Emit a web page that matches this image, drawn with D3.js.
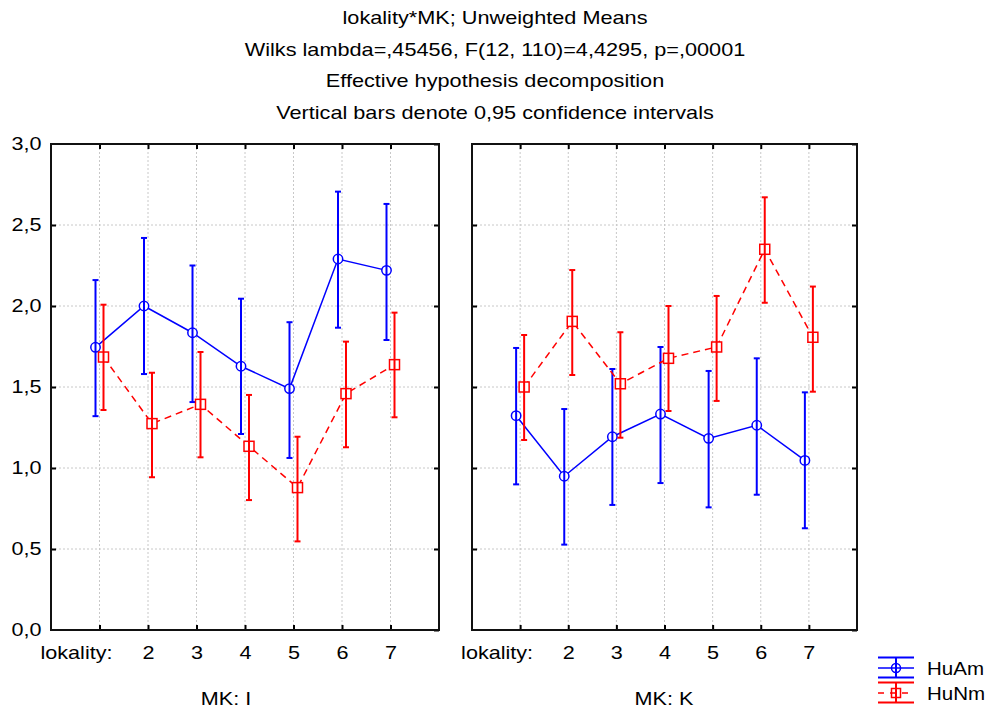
<!DOCTYPE html>
<html>
<head>
<meta charset="utf-8">
<style>
  body { margin: 0; background: #fff; }
  text { font-family: "Liberation Sans", Arial, sans-serif; fill: #000; }
</style>
</head>
<body>
<svg id="chart" width="986" height="708"></svg>
<script src="https://cdn.jsdelivr.net/npm/d3@7"></script>
<script>
// data
var titleLines = [
    "lokality*MK; Unweighted Means",
    "Wilks lambda=,45456, F(12, 110)=4,4295, p=,00001",
    "Effective hypothesis decomposition",
    "Vertical bars denote 0,95 confidence intervals"
];
var lokality = [1, 2, 3, 4, 5, 6, 7];
var panels = ["MK: I", "MK: K"];
var seriesNames = ["HuAm", "HuNm"];
var yTicks = [0, 0.5, 1, 1.5, 2, 2.5, 3];

// MK: I
var huAmMeanI = [1.745, 2.00, 1.835, 1.628, 1.49, 2.29, 2.22];
var huAmLowI  = [1.32, 1.58, 1.407, 1.21, 1.062, 1.866, 1.79];
var huAmHighI = [2.16, 2.42, 2.25, 2.045, 1.90, 2.706, 2.63];
var huNmMeanI = [1.685, 1.274, 1.393, 1.134, 0.879, 1.459, 1.638];
var huNmLowI  = [1.358, 0.943, 1.066, 0.802, 0.547, 1.128, 1.313];
var huNmHighI = [2.008, 1.588, 1.716, 1.451, 1.193, 1.78, 1.959];
// MK: K
var huAmMeanK = [1.323, 0.949, 1.193, 1.333, 1.183, 1.264, 1.047];
var huAmLowK  = [0.899, 0.527, 0.772, 0.907, 0.757, 0.835, 0.628];
var huAmHighK = [1.741, 1.364, 1.611, 1.747, 1.599, 1.677, 1.467];
var huNmMeanK = [1.50, 1.905, 1.52, 1.677, 1.747, 2.35, 1.807];
var huNmLowK  = [1.173, 1.574, 1.187, 1.352, 1.414, 2.02, 1.471];
var huNmHighK = [1.821, 2.222, 1.838, 2.0, 2.062, 2.671, 2.12];

var panelData = [
    [[huAmMeanI, huAmLowI, huAmHighI], [huNmMeanI, huNmLowI, huNmHighI]],
    [[huAmMeanK, huAmLowK, huAmHighK], [huNmMeanK, huNmLowK, huNmHighK]]
];

var colors = ["#0000ff", "#ff0000"];
var offsets = [-4, 4];
var sx = 1.2; // text in the original is drawn wider

var svg = d3.select("#chart");
var comma = d3.formatLocale({decimal: ",", thousands: " ", grouping: [3], currency: ["", ""]}).format(".1f");

function label(t, x, yb, size, anchor, scale) {
    return svg.append("text")
        .attr("transform", "translate(" + x + "," + yb + ") scale(" + scale + ",1)")
        .attr("text-anchor", anchor)
        .attr("font-size", size)
        .text(t);
}

// titles
var titleY = [24, 56, 87, 119];
titleLines.forEach(function(t, i) { label(t, 495, titleY[i], 17.5, "middle", 1.24); });

var y = d3.scaleLinear().domain([0, 3]).range([630, 144]);
var panelBox = [[51, 439], [472, 857]];
var panelLabelX = [226, 664];

panels.forEach(function(pname, p) {
    var x0 = panelBox[p][0], x1 = panelBox[p][1];
    var x = d3.scaleLinear().domain([0, 8]).range([x0, x1]);
    var g = svg.append("g");

    // grid
    g.selectAll(".gx").data(lokality).join("line")
        .attr("x1", function(d) { return x(d); }).attr("x2", function(d) { return x(d); })
        .attr("y1", y(0)).attr("y2", y(3))
        .attr("stroke", "#c8c8c8").attr("stroke-dasharray", "2,2");
    g.selectAll(".gy").data(yTicks.slice(1, -1)).join("line")
        .attr("y1", function(d) { return y(d); }).attr("y2", function(d) { return y(d); })
        .attr("x1", x0).attr("x2", x1)
        .attr("stroke", "#c8c8c8").attr("stroke-dasharray", "2,2");

    // axes, ticks inward
    var axL = g.append("g").attr("transform", "translate(" + x0 + ",0)")
        .call(d3.axisLeft(y).tickValues(yTicks).tickSize(-5).tickSizeOuter(0).tickPadding(8)
            .tickFormat(p === 0 ? comma : ""));
    var axR = g.append("g").attr("transform", "translate(" + x1 + ",0)")
        .call(d3.axisRight(y).tickValues(yTicks).tickSize(-5).tickSizeOuter(0).tickFormat(""));
    var axT = g.append("g").attr("transform", "translate(0," + y(3) + ")")
        .call(d3.axisTop(x).tickValues(lokality).tickSize(-5).tickSizeOuter(0).tickFormat(""));
    var axB = g.append("g").attr("transform", "translate(0," + y(0) + ")")
        .call(d3.axisBottom(x).tickValues(lokality).tickSize(-5).tickSizeOuter(0).tickPadding(16)
            .tickFormat(function(d) { return d === 1 ? "" : d; }));
    [axL, axR, axT, axB].forEach(function(a) {
        a.attr("font-family", null).attr("font-size", 18);
        a.select(".domain").remove();
        a.selectAll(".tick line").attr("stroke", "#000").attr("stroke-width", 2);
        a.selectAll(".tick text").attr("transform", "scale(" + sx + ",1)");
    });
    axL.selectAll(".tick").filter(function(d) { return d === 0 || d === 3; }).select("line").remove();

    // frame
    g.append("rect").attr("x", x0).attr("y", y(3)).attr("width", x1 - x0).attr("height", y(0) - y(3))
        .attr("fill", "none").attr("stroke", "#111").attr("stroke-width", 2);

    label("lokality:", x(1) + 13, 659, 18, "end", sx);
    label(pname, panelLabelX[p], 705, 18, "middle", sx);

    // series
    panelData[p].forEach(function(s, si) {
        var pts = lokality.map(function(k, j) {
            return {x: x(k) + offsets[si], m: s[0][j], lo: s[1][j], hi: s[2][j]};
        });
        var sg = g.append("g");
        sg.append("path").datum(pts)
            .attr("d", d3.line().x(function(d) { return d.x; }).y(function(d) { return y(d.m); }))
            .attr("fill", "none").attr("stroke", colors[si]).attr("stroke-width", 1.5)
            .attr("stroke-dasharray", si === 1 ? "7,5" : null);
        if (si === 0) {
            sg.selectAll("circle").data(pts).join("circle")
                .attr("cx", function(d) { return d.x; }).attr("cy", function(d) { return y(d.m); })
                .attr("r", 4.7).attr("fill", "#fff").attr("stroke", colors[si]).attr("stroke-width", 1.5);
        } else {
            sg.selectAll("rect").data(pts).join("rect")
                .attr("x", function(d) { return d.x - 5; }).attr("y", function(d) { return y(d.m) - 5; })
                .attr("width", 10).attr("height", 10)
                .attr("fill", "#fff").attr("stroke", colors[si]).attr("stroke-width", 1.5);
        }
        sg.selectAll(".bar").data(pts).join("line")
            .attr("x1", function(d) { return d.x; }).attr("x2", function(d) { return d.x; })
            .attr("y1", function(d) { return y(d.lo); }).attr("y2", function(d) { return y(d.hi); })
            .attr("stroke", colors[si]).attr("stroke-width", 2);
        ["lo", "hi"].forEach(function(k) {
            sg.selectAll(".cap-" + k).data(pts).join("line")
                .attr("x1", function(d) { return d.x - 3; }).attr("x2", function(d) { return d.x + 3; })
                .attr("y1", function(d) { return y(d[k]); }).attr("y2", function(d) { return y(d[k]); })
                .attr("stroke", colors[si]).attr("stroke-width", 2);
        });
    });
});

// legend
var legY = [668, 693];
seriesNames.forEach(function(name, i) {
    var cy = legY[i], lg = svg.append("g");
    lg.append("line").attr("x1", 878).attr("x2", 914).attr("y1", cy - 10.5).attr("y2", cy - 10.5)
        .attr("stroke", colors[i]).attr("stroke-width", 2);
    lg.append("line").attr("x1", 878).attr("x2", 914).attr("y1", cy + 9.5).attr("y2", cy + 9.5)
        .attr("stroke", colors[i]).attr("stroke-width", 2);
    lg.append("line").attr("x1", 896).attr("x2", 896).attr("y1", cy - 10.5).attr("y2", cy + 9.5)
        .attr("stroke", colors[i]).attr("stroke-width", 2);
    lg.append("line").attr("x1", 878).attr("x2", 914).attr("y1", cy).attr("y2", cy)
        .attr("stroke", colors[i]).attr("stroke-width", 1.5)
        .attr("stroke-dasharray", i === 1 ? "6,6" : null);
    if (i === 0) {
        lg.append("circle").attr("cx", 896).attr("cy", cy).attr("r", 4.5)
            .attr("fill", "none").attr("stroke", colors[i]).attr("stroke-width", 1.5);
    } else {
        lg.append("rect").attr("x", 891.5).attr("y", cy - 4.5).attr("width", 9).attr("height", 9)
            .attr("fill", "none").attr("stroke", colors[i]).attr("stroke-width", 1.5);
    }
    label(name, 927, cy + 7, 18, "start", 1.14);
});
</script>
</body>
</html>
